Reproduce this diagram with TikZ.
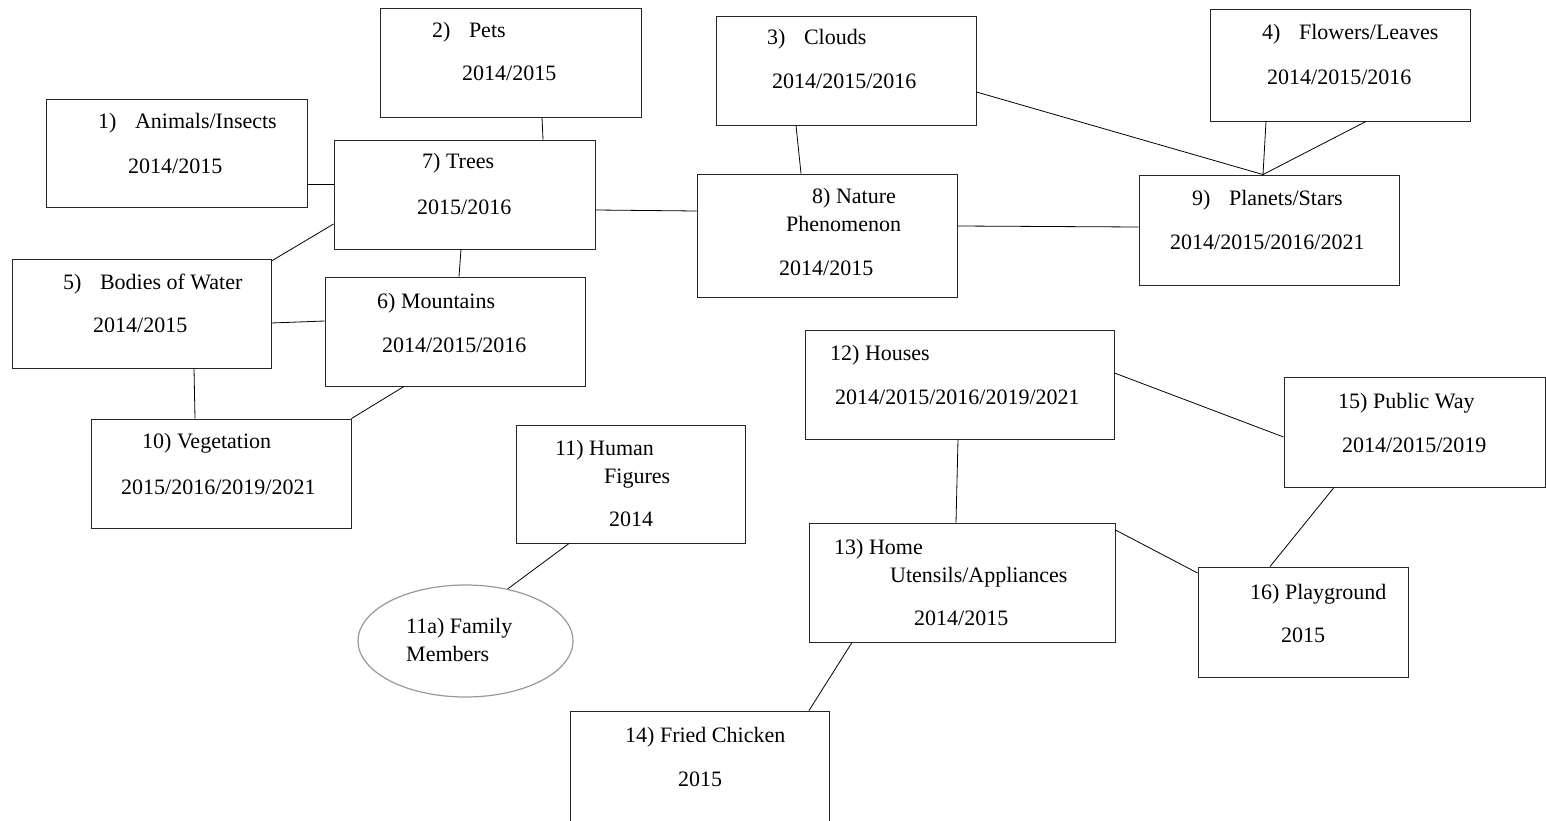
\documentclass[tikz,border=0pt]{standalone}
\usepackage{fontspec}
\setmainfont{Liberation Serif}
\usetikzlibrary{shapes.geometric}
\begin{document}
\begin{tikzpicture}[x=1pt,y=-1pt,
  box/.style={draw=black!85,line width=0.9pt,rectangle,inner sep=0pt},
  oval/.style={draw=black!40,line width=1.2pt,ellipse,inner sep=0pt},
  txt/.style={anchor=base west,inner sep=0pt,font=\fontsize{22}{26}\selectfont},
  link/.style={draw=black,line width=0.8pt}]
\useasboundingbox (0,0) rectangle (1546,821);
\clip (0,0) rectangle (1546,821);
\fill[white] (0,0) rectangle (1546,821);

% topic boxes
\node[box,minimum width=261pt,minimum height=108pt] (b1) at (176.5,153) {};
\node[box,minimum width=261pt,minimum height=109pt] (b2) at (510.5,62.5) {};
\node[box,minimum width=260pt,minimum height=109pt] (b3) at (846,70.5) {};
\node[box,minimum width=260pt,minimum height=112pt] (b4) at (1340,65) {};
\node[box,minimum width=261pt,minimum height=109pt] (b7) at (464.5,194.5) {};
\node[box,minimum width=260pt,minimum height=123pt] (b8) at (827,235.5) {};
\node[box,minimum width=260pt,minimum height=110pt] (b9) at (1269,230) {};
\node[box,minimum width=259pt,minimum height=109pt] (b5) at (141.5,313.5) {};
\node[box,minimum width=260pt,minimum height=109pt] (b6) at (455,331.5) {};
\node[box,minimum width=260pt,minimum height=109pt] (b10) at (221,473.5) {};
\node[box,minimum width=229pt,minimum height=118pt] (b11) at (630.5,484) {};
\node[oval,minimum width=215pt,minimum height=112pt] (e11a) at (465.5,641) {};
\node[box,minimum width=309pt,minimum height=109pt] (b12) at (959.5,384.5) {};
\node[box,minimum width=261pt,minimum height=110pt] (b15) at (1414.5,432) {};
\node[box,minimum width=306pt,minimum height=119pt] (b13) at (962,582.5) {};
\node[box,minimum width=210pt,minimum height=110pt] (b16) at (1303,622) {};
\node[box,minimum width=259pt,minimum height=140pt] (b14) at (699.5,781) {};

% box texts
\node[txt] (t1a) at (98,129) {1)\hspace{18.5pt}Animals/Insects};
\node[txt] (t1b) at (128,174) {2014/2015};
\node[txt] (t2a) at (432,38) {2)\hspace{18.5pt}Pets};
\node[txt] (t2b) at (462,81) {2014/2015};
\node[txt] (t3a) at (767,45) {3)\hspace{18.5pt}Clouds};
\node[txt] (t3b) at (772,89) {2014/2015/2016};
\node[txt] (t4a) at (1262,40) {4)\hspace{18.5pt}Flowers/Leaves};
\node[txt] (t4b) at (1267,85) {2014/2015/2016};
\node[txt] (t7a) at (422,169) {7) Trees};
\node[txt] (t7b) at (417,214) {2015/2016};
\node[txt] (t8a) at (812,204) {8) Nature};
\node[txt] (t8b) at (786,231) {Phenomenon};
\node[txt] (t8c) at (779,275) {2014/2015};
\node[txt] (t9a) at (1192,205) {9)\hspace{18.5pt}Planets/Stars};
\node[txt] (t9b) at (1170,249) {2014/2015/2016/2021};
\node[txt] (t5a) at (63,289) {5)\hspace{18.5pt}Bodies of Water};
\node[txt] (t5b) at (93,332) {2014/2015};
\node[txt] (t6a) at (377,308) {6) Mountains};
\node[txt] (t6b) at (382,352) {2014/2015/2016};
\node[txt] (t10a) at (142,448) {10) Vegetation};
\node[txt] (t10b) at (121,494) {2015/2016/2019/2021};
\node[txt] (t11a) at (555,455) {11) Human};
\node[txt] (t11b) at (604,483) {Figures};
\node[txt] (t11c) at (609,526) {2014};
\node[txt] (t11d) at (406,633) {11a) Family};
\node[txt] (t11e) at (406,661) {Members};
\node[txt] (t12a) at (830,360) {12) Houses};
\node[txt] (t12b) at (835,404) {2014/2015/2016/2019/2021};
\node[txt] (t15a) at (1338,408) {15) Public Way};
\node[txt] (t15b) at (1342,452) {2014/2015/2019};
\node[txt] (t13a) at (834,554) {13) Home};
\node[txt] (t13b) at (890,582) {Utensils/Appliances};
\node[txt] (t13c) at (914,625) {2014/2015};
\node[txt] (t16a) at (1250,599) {16) Playground};
\node[txt] (t16b) at (1281,642) {2015};
\node[txt] (t14a) at (625,742) {14) Fried Chicken};
\node[txt] (t14b) at (678,786) {2015};

% connectors
\draw[link] (542,0 |- b2.south) -- (543,0 |- b7.north);
\draw[link] (b1.east |- 0,184) -- (b7.west |- 0,184);
\draw[link] (b7.west |- 0,224) -- (b5.east |- 0,261);
\draw[link] (461,0 |- b7.south) -- (459,0 |- b6.north);
\draw[link] (b7.east |- 0,210) -- (b8.west |- 0,211);
\draw[link] (796,0 |- b3.south) -- (801,0 |- b8.north);
\draw[link] (b8.east |- 0,226) -- (b9.west |- 0,227);
\draw[link] (b3.east |- 0,92) -- (1263,0 |- b9.north);
\draw[link] (1266,0 |- b4.south) -- (1263,0 |- b9.north);
\draw[link] (1366,0 |- b4.south) -- (1263,0 |- b9.north);
\draw[link] (b5.east |- 0,323) -- (b6.west |- 0,321);
\draw[link] (194,0 |- b5.south) -- (195,0 |- b10.north);
\draw[link] (404,0 |- b6.south) -- (b10.north east);
\draw[link] (569,0 |- b11.south) -- (e11a.51);
\draw[link] (958,0 |- b12.south) -- (956,0 |- b13.north);
\draw[link] (b12.east |- 0,373) -- (b15.west |- 0,437);
\draw[link] (b13.east |- 0,530) -- (b16.west |- 0,573);
\draw[link] (1334,0 |- b15.south) -- (1270,0 |- b16.north);
\draw[link] (852,0 |- b13.south) -- (809,0 |- b14.north);
\end{tikzpicture}
\end{document}
